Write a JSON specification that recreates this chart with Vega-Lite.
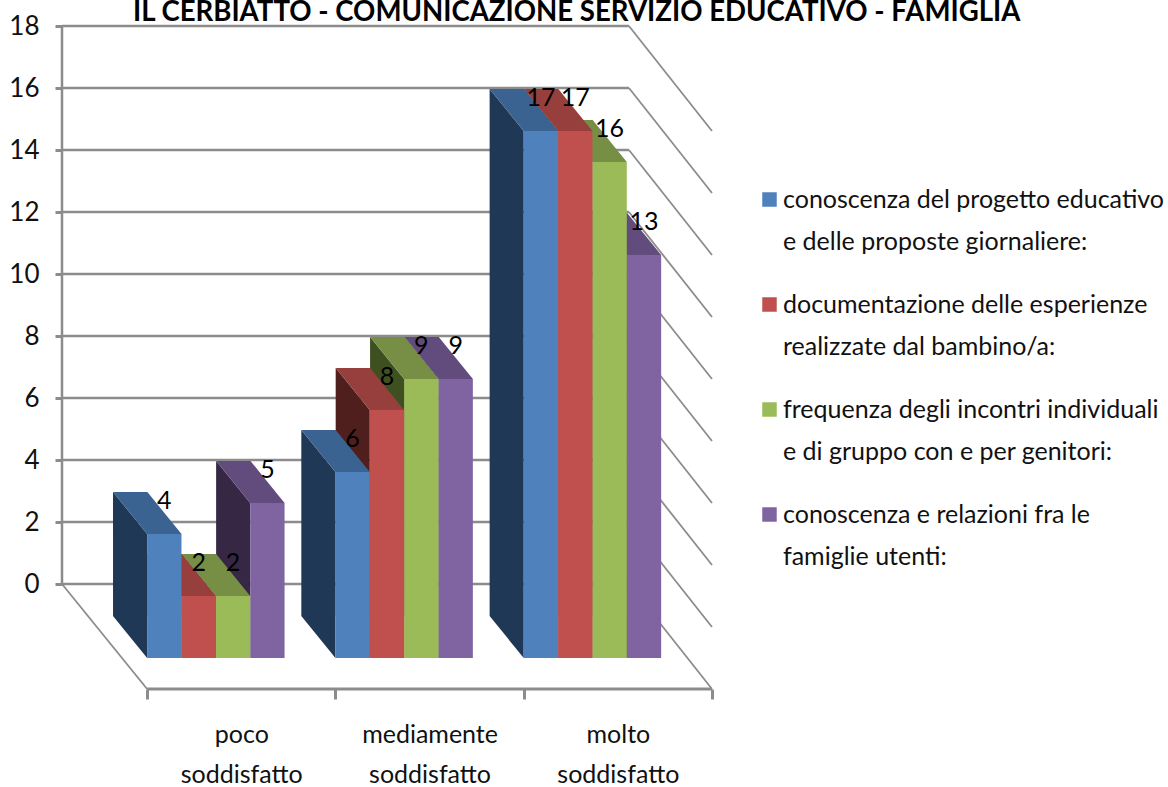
{
"$schema":"https://vega.github.io/schema/vega-lite/v6.json",
"width":650,"height":663,
"autosize":{"type":"none"},
"padding":{"left":62,"top":26,"right":456,"bottom":98},
"background":"#ffffff",
"config":{"font":"Lato","view":{"stroke":null},"axis":{"grid":false,"domain":false}},
"title":{"text":"IL CERBIATTO - COMUNICAZIONE SERVIZIO EDUCATIVO - FAMIGLIA","anchor":"start","frame":"group","dx":71,"dy":30,"offset":-6,"baseline":"alphabetic","fontSize":27.6,"fontWeight":"bold","color":"#000000"},
"datasets":{
"bars":[
{"group":"poco soddisfatto","series":"famiglie","value":5},
{"group":"poco soddisfatto","series":"frequenza","value":2},
{"group":"poco soddisfatto","series":"documentazione","value":2},
{"group":"poco soddisfatto","series":"conoscenza","value":4},
{"group":"mediamente soddisfatto","series":"famiglie","value":9},
{"group":"mediamente soddisfatto","series":"frequenza","value":9},
{"group":"mediamente soddisfatto","series":"documentazione","value":8},
{"group":"mediamente soddisfatto","series":"conoscenza","value":6},
{"group":"molto soddisfatto","series":"famiglie","value":13},
{"group":"molto soddisfatto","series":"frequenza","value":16},
{"group":"molto soddisfatto","series":"documentazione","value":17},
{"group":"molto soddisfatto","series":"conoscenza","value":17}
],
"levels":[{"level":0},{"level":2},{"level":4},{"level":6},{"level":8},{"level":10},{"level":12},{"level":14},{"level":16},{"level":18}],
"one":[{"edge":"wall"}]
},
"data":{"name":"bars"},
"transform":[
{"calculate":"indexof(['poco soddisfatto','mediamente soddisfatto','molto soddisfatto'],datum.group)","as":"gi"},
{"calculate":"indexof(['conoscenza','documentazione','frequenza','famiglie'],datum.series)","as":"si"},
{"calculate":"datum.gi+datum.si*0.1825","as":"fx"},
{"calculate":"datum.fx+0.1825","as":"fx2"},
{"calculate":"datum.value-2.387","as":"ftop"}
],
"layer":[
{"data":{"name":"levels"},"mark":{"type":"rule","color":"#8c8c8c","strokeWidth":2.5},
 "encoding":{"x":{"datum":-0.452,"type":"quantitative","title":null,"scale":{"domain":[-0.452,3],"nice":false,"zero":false},
 "axis":{"values":[0,0.5,1,1.5,2,2.5,3],"domain":false,"grid":false,"tickSize":10,"tickWidth":3,"tickColor":"#8c8c8c","tickOpacity":{"condition":{"test":"datum.value%1!=0","value":0},"value":1},"labelPadding":23,"labelFontSize":25,"labelColor":"#111111","labelLineHeight":40,"labelBaseline":"top","labelOverlap":false,"labelFlush":false,"labelBound":false,"labelExpr":"datum.value==0.5?['poco','soddisfatto']:datum.value==1.5?['mediamente','soddisfatto']:datum.value==2.5?['molto','soddisfatto']:''"}},"x2":{"datum":2.559},
 "y":{"field":"level","type":"quantitative","title":null,"scale":{"domain":[-3.387,18],"nice":false,"zero":false},
 "axis":{"values":[0,2,4,6,8,10,12,14,16,18],"domain":false,"grid":false,"tickSize":7,"tickWidth":3,"tickColor":"#8c8c8c","labelPadding":16,"labelFontSize":26,"labelColor":"#111111","labelOverlap":false,"labelFlush":false,"labelBound":false}}}},
{"data":{"name":"levels"},"transform":[{"calculate":"datum.level-3.387","as":"low"}],"mark":{"type":"rule","color":"#8c8c8c","strokeWidth":1.8},
 "encoding":{"x":{"datum":2.559,"type":"quantitative","title":null},"x2":{"datum":3},"y":{"field":"level","type":"quantitative","title":null},"y2":{"field":"low"}}},
{"data":{"name":"one"},"mark":{"type":"rule","color":"#8c8c8c","strokeWidth":2.5},
 "encoding":{"x":{"datum":-0.452,"type":"quantitative","title":null},"y":{"datum":0,"type":"quantitative","title":null},"y2":{"datum":18}}},
{"data":{"name":"one"},"mark":{"type":"rule","color":"#8c8c8c","strokeWidth":1.8},
 "encoding":{"x":{"datum":-0.452,"type":"quantitative","title":null},"x2":{"datum":0},"y":{"datum":0,"type":"quantitative","title":null},"y2":{"datum":-3.387}}},
{"data":{"name":"one"},"mark":{"type":"rule","color":"#8c8c8c","strokeWidth":3},
 "encoding":{"x":{"datum":0,"type":"quantitative","title":null},"x2":{"datum":3},"y":{"datum":-3.387,"type":"quantitative","title":null}}},
{"transform":[{"calculate":"[0,1]","as":"t"},{"flatten":["t"]},
 {"calculate":"datum.fx-0.181+0.181*datum.t","as":"px"},
 {"calculate":"datum.value-1.032-1.355*datum.t","as":"ptop"},
 {"calculate":"-1.032-1.355*datum.t","as":"pbase"}],
 "mark":{"type":"area","orient":"vertical","opacity":1},
 "encoding":{"x":{"field":"px","type":"quantitative","title":null},
 "y":{"field":"ptop","type":"quantitative","stack":null,"title":null},"y2":{"field":"pbase"},
 "detail":{"field":"group"},
 "color":{"field":"series","type":"nominal","legend":null,"scale":{"domain":["conoscenza","documentazione","frequenza","famiglie"],"range":["#1F3855","#4F1F1E","#3F5020","#362845"]}}}},
{"transform":[{"calculate":"[0,1]","as":"t"},{"flatten":["t"]},
 {"calculate":"datum.fx-0.181+0.181*datum.t","as":"px"},
 {"calculate":"datum.px+0.1825","as":"px2"},
 {"calculate":"datum.value-1.032-1.355*datum.t","as":"ptop"}],
 "mark":{"type":"area","orient":"horizontal","opacity":1},
 "encoding":{"y":{"field":"ptop","type":"quantitative","title":null},
 "x":{"field":"px","type":"quantitative","stack":null,"title":null},"x2":{"field":"px2"},
 "detail":{"field":"group"},
 "color":{"field":"series","type":"nominal","legend":null,"scale":{"domain":["conoscenza","documentazione","frequenza","famiglie"],"range":["#3A6391","#973F3C","#778F45","#624C7E"]}}}},
{"mark":{"type":"rect","opacity":1},
 "encoding":{
 "x":{"field":"fx","type":"quantitative","title":null},
 "x2":{"field":"fx2"},
 "y":{"field":"ftop","type":"quantitative","title":null},
 "y2":{"datum":-2.387},
 "color":{"field":"series","type":"nominal","scale":{"domain":["conoscenza","documentazione","frequenza","famiglie"],"range":["#4F81BD","#C0504D","#9BBB59","#8064A2"]},
 "legend":{"orient":"none","legendX":695,"legendY":161,"title":null,"symbolType":"square","symbolSize":210,"symbolStrokeWidth":0,"labelFontSize":25,"labelColor":"#111111","labelLimit":440,"labelOffset":1,"rowPadding":37,
 "encoding":{"labels":{"lineHeight":{"value":42}}},
 "labelExpr":"datum.value=='conoscenza'?['conoscenza del progetto educativo','e delle proposte giornaliere:']:datum.value=='documentazione'?['documentazione delle esperienze','realizzate dal bambino/a:']:datum.value=='frequenza'?['frequenza degli incontri individuali','e di gruppo con e per genitori:']:['conoscenza e relazioni fra le','famiglie utenti:']"}}}},
{"transform":[{"calculate":"datum.fx+0.09125","as":"lx"},{"calculate":"datum.value-1.32","as":"ly"}],
 "mark":{"type":"text","fontSize":25,"color":"#000000","baseline":"middle","align":"center"},
 "encoding":{"x":{"field":"lx","type":"quantitative","title":null},"y":{"field":"ly","type":"quantitative","title":null},"text":{"field":"value","type":"quantitative"}}}
],
"resolve":{"scale":{"color":"independent"}}
}
